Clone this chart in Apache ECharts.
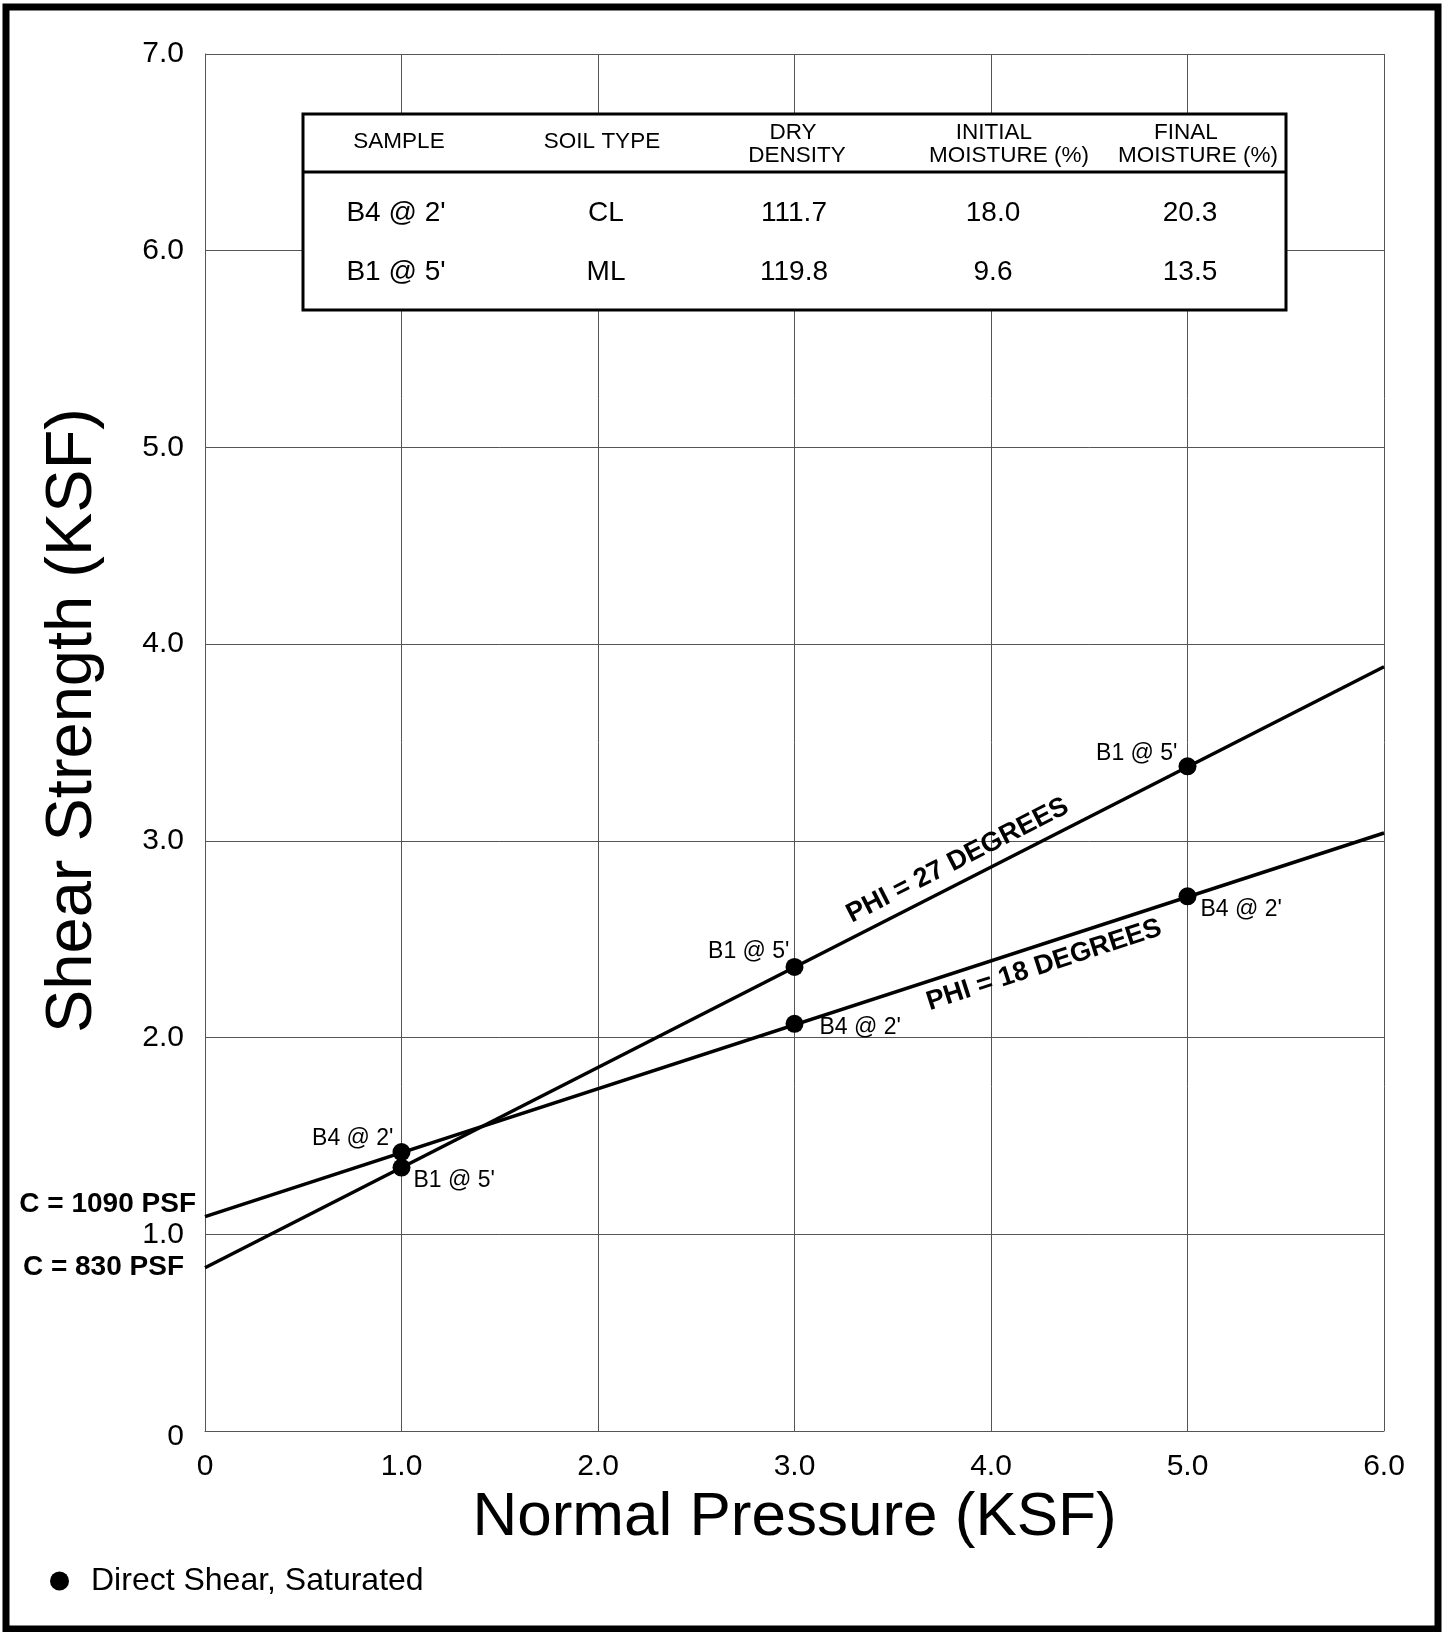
<!DOCTYPE html>
<html>
<head>
<meta charset="utf-8">
<script src="https://cdn.jsdelivr.net/npm/echarts@6/dist/echarts.min.js"></script>
<style>
html,body{margin:0;padding:0;background:#fff;}
#chart{width:1442px;height:1632px;}
</style>
</head>
<body>
<div id="chart"></div>
<script>
// ---------- data ----------
const xTickLabels = ['0', '1.0', '2.0', '3.0', '4.0', '5.0', '6.0'];
const yTickLabels = ['0', '1.0', '2.0', '3.0', '4.0', '5.0', '6.0', '7.0'];

const normalPressure = [1.0, 3.0, 5.0];
const shearB1 = [1.339, 2.359, 3.379];   // B1 @ 5'
const shearB4 = [1.418, 2.070, 2.718];   // B4 @ 2'
const sampleB1 = "B1 @ 5'";
const sampleB4 = "B4 @ 2'";

// strength envelopes (end points at x = 0 and x = 6)
const envelopeB1X = [0, 6];
const envelopeB1Y = [0.83, 3.885];
const envelopeB4X = [0, 6];
const envelopeB4Y = [1.09, 3.04];

const phiLabels = ['PHI = 27 DEGREES', 'PHI = 18 DEGREES'];
const cohesionLabels = ['C = 830 PSF', 'C = 1090 PSF'];
const legendName = 'Direct Shear, Saturated';

const tableHeaders = [['SAMPLE'], ['SOIL TYPE'], ['DRY', 'DENSITY'], ['INITIAL', 'MOISTURE (%)'], ['FINAL', 'MOISTURE (%)']];
const tableRows = [
  ["B4 @ 2'", 'CL', '111.7', '18.0', '20.3'],
  ["B1 @ 5'", 'ML', '119.8', '9.6', '13.5']
];

// ---------- layout / style ----------
const FONT = '"Liberation Sans", Arial, Helvetica, sans-serif';
const labelPlaceB1 = [
  {position: 'right', distance: 3, offset: [0, 13]},
  {position: 'left', distance: 0, offset: [4, -15]},
  {position: 'left', distance: 1, offset: [0, -13]}
];
const labelPlaceB4 = [
  {position: 'left', distance: 3, offset: [4, -13]},
  {position: 'right', distance: 16, offset: [0, 4]},
  {position: 'right', distance: 4, offset: [0, 13]}
];
const tableBox = {x: 303, y: 114, w: 983, h: 196, sepY: 172};
const headerCenters = [[399], [602], [793, 797], [994, 1009], [1186, 1198]];
const headerY1 = [142], headerY2 = [133, 156];
const rowCenters = [396, 606, 794, 993, 1190];
const rowY = [213, 272];

function pts(xs, ys) { return xs.map((x, i) => [x, ys[i]]); }

const scatterData = [];
normalPressure.forEach((x, i) => {
  scatterData.push({value: [x, shearB1[i]], label: Object.assign({show: true, formatter: sampleB1}, labelPlaceB1[i])});
});
normalPressure.forEach((x, i) => {
  scatterData.push({value: [x, shearB4[i]], label: Object.assign({show: true, formatter: sampleB4}, labelPlaceB4[i])});
});

// table graphic
const tableEls = [];
tableEls.push({type: 'rect', z: 100, shape: {x: tableBox.x, y: tableBox.y, width: tableBox.w, height: tableBox.h},
  style: {fill: '#fff', stroke: '#000', lineWidth: 3}});
tableEls.push({type: 'line', z: 101, shape: {x1: tableBox.x, y1: tableBox.sepY, x2: tableBox.x + tableBox.w, y2: tableBox.sepY},
  style: {stroke: '#000', lineWidth: 3}});
tableHeaders.forEach((lines, c) => {
  const ys = lines.length === 1 ? headerY1 : headerY2;
  lines.forEach((t, k) => {
    tableEls.push({type: 'text', z: 102, style: {text: t, x: headerCenters[c][k], y: ys[k],
      fill: '#000', fontSize: 22.5, fontFamily: FONT, align: 'center', verticalAlign: 'middle'}});
  });
});
tableRows.forEach((row, r) => {
  row.forEach((t, c) => {
    tableEls.push({type: 'text', z: 102, style: {text: t, x: rowCenters[c], y: rowY[r],
      fill: '#000', fontSize: 28, fontFamily: FONT, align: 'center', verticalAlign: 'middle'}});
  });
});

const option = {
  animation: false,
  backgroundColor: '#fff',
  textStyle: {fontFamily: FONT, color: '#000'},
  grid: {left: 205, top: 54, right: 58, bottom: 201},
  legend: {
    data: [legendName], left: 50, top: 1565, padding: 0,
    icon: 'circle', itemWidth: 19, itemHeight: 19,
    itemStyle: {opacity: 1, color: '#000'},
    textStyle: {fontSize: 32, color: '#000', fontFamily: FONT, padding: [0, 0, 0, 17]}
  },
  xAxis: {
    type: 'value', min: 0, max: 6, interval: 1,
    axisLine: {show: true, lineStyle: {color: '#555', width: 1}},
    axisTick: {show: false},
    splitLine: {show: true, lineStyle: {color: '#555', width: 1}},
    axisLabel: {fontSize: 30, color: '#000', margin: 21, fontFamily: FONT,
      formatter: v => xTickLabels[Math.round(v)]},
    name: 'Normal Pressure (KSF)', nameLocation: 'middle', nameGap: 56,
    nameMoveOverlap: false,
    nameTextStyle: {fontSize: 62, color: '#000', fontFamily: FONT}
  },
  yAxis: {
    type: 'value', min: 0, max: 7, interval: 1,
    axisLine: {show: true, lineStyle: {color: '#555', width: 1}},
    axisTick: {show: false},
    splitLine: {show: true, lineStyle: {color: '#555', width: 1}},
    axisLabel: {fontSize: 30, color: '#000', margin: 21, fontFamily: FONT,
      formatter: v => (Math.round(v) === 0 ? '{z|' + yTickLabels[0] + '}' : yTickLabels[Math.round(v)]),
      rich: {z: {fontSize: 30, color: '#000', fontFamily: FONT, padding: [12, 0, 0, 0]}}},
    name: 'Shear Strength (KSF)', nameLocation: 'middle', nameGap: 99,
    nameMoveOverlap: false,
    nameTextStyle: {fontSize: 65, color: '#000', fontFamily: FONT, padding: [0, 0, 0, 44]}
  },
  graphic: {elements: [
    {type: 'rect', z: 120, shape: {x: 6, y: 7, width: 1432, height: 1622},
      style: {fill: 'none', stroke: '#000', lineWidth: 7}},
    {type: 'group', z: 100, children: tableEls}
  ]},
  series: [
    {
      type: 'line', name: 'PHI27', data: pts(envelopeB1X, envelopeB1Y),
      showSymbol: false, symbol: 'none', z: 3,
      lineStyle: {color: '#000', width: 3.5},
      markPoint: {
        symbol: 'circle', symbolSize: 0, silent: true,
        label: {show: true, color: '#000', fontFamily: FONT, fontWeight: 'bold'},
        data: [
          {coord: [3.83, 2.90], label: {formatter: phiLabels[0], rotate: 27, position: 'inside', fontSize: 27}},
          {coord: [0, 0.832], label: {formatter: cohesionLabels[0], position: 'left', distance: 21, fontSize: 28}}
        ]
      }
    },
    {
      type: 'line', name: 'PHI18', data: pts(envelopeB4X, envelopeB4Y),
      showSymbol: false, symbol: 'none', z: 3,
      lineStyle: {color: '#000', width: 3.5},
      markPoint: {
        symbol: 'circle', symbolSize: 0, silent: true,
        label: {show: true, color: '#000', fontFamily: FONT, fontWeight: 'bold'},
        data: [
          {coord: [4.27, 2.368], label: {formatter: phiLabels[1], rotate: 18, position: 'inside', fontSize: 27}},
          {coord: [0, 1.152], label: {formatter: cohesionLabels[1], position: 'left', distance: 9, fontSize: 28}}
        ]
      }
    },
    {
      type: 'scatter', name: legendName, data: scatterData, z: 5,
      symbol: 'circle', symbolSize: 18,
      itemStyle: {color: '#000', opacity: 1},
      label: {color: '#000', fontSize: 23, fontFamily: FONT}
    }
  ]
};

const chart = echarts.init(document.getElementById('chart'), null, {renderer: 'canvas'});
chart.setOption(option);
</script>
</body>
</html>
